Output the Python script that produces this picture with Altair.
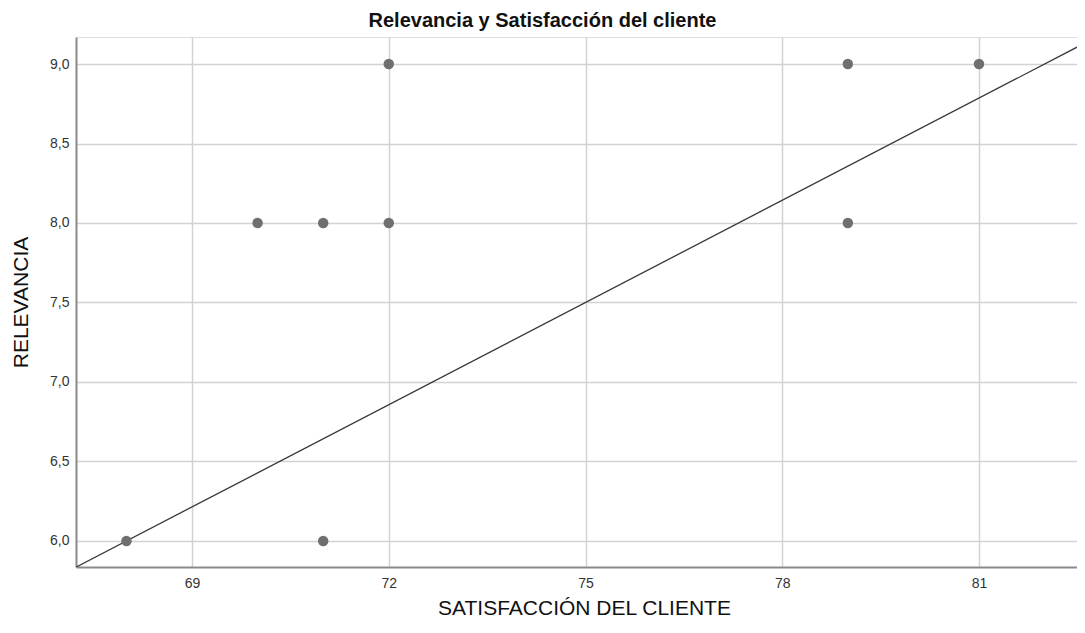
import altair as alt
import pandas as pd

# Data
satisfaccion = [68, 71, 70, 71, 72, 72, 79, 81, 79]
relevancia = [6.0, 6.0, 8.0, 8.0, 8.0, 9.0, 9.0, 9.0, 8.0]

# Fit line endpoints (at the edges of the axis domain)
line_x = [67.231, 82.494]
line_y = [5.835, 9.106]

x_ticks = [69, 72, 75, 78, 81]
y_ticks = [6.0, 6.5, 7.0, 7.5, 8.0, 8.5, 9.0]

x_domain = [67.231, 82.494]
y_domain = [5.836, 9.17]

pts = pd.DataFrame({"x": satisfaccion, "y": relevancia})
ln = pd.DataFrame({"x": line_x, "y": line_y})

FONT = "Liberation Sans"
W, H = 1001, 530

xscale = alt.Scale(domain=x_domain, nice=False, zero=False)
yscale = alt.Scale(domain=y_domain, nice=False, zero=False)

xaxis = alt.Axis(
    values=x_ticks, title="SATISFACCIÓN DEL CLIENTE", grid=True, ticks=False,
    format="d",
    gridColor="#d2d2d2", gridWidth=1.5, domainColor="#8a8a8a", domainWidth=2,
    labelFont=FONT, labelFontSize=14, labelColor="#333333", labelPadding=9,
    titleFont=FONT, titleFontSize=21, titleFontWeight="normal", titleColor="#111111",
    titleX=508, titleY=47, titleBaseline="alphabetic",
)
yaxis = alt.Axis(
    values=y_ticks, title="RELEVANCIA", grid=True, ticks=False,
    gridColor="#d2d2d2", gridWidth=1.5, domainColor="#8a8a8a", domainWidth=2,
    labelFont=FONT, labelFontSize=14, labelColor="#333333", labelPadding=7,
    labelExpr="replace(format(datum.value, '.1f'), '.', ',')",
    titleFont=FONT, titleFontSize=21, titleFontWeight="normal", titleColor="#111111",
    titleX=-49, titleY=265, titleBaseline="alphabetic", titleAngle=270,
)

points = alt.Chart(pts).mark_circle(size=110, color="#6f6f6f", opacity=1).encode(
    x=alt.X("x:Q", scale=xscale, axis=xaxis),
    y=alt.Y("y:Q", scale=yscale, axis=yaxis),
)

line = alt.Chart(ln).mark_line(color="#383838", strokeWidth=1.3, clip=True).encode(
    x=alt.X("x:Q", scale=xscale),
    y=alt.Y("y:Q", scale=yscale),
)

chart = (
    alt.layer(line, points)
    .properties(
        width=W,
        height=H,
        title=alt.TitleParams(
            "Relevancia y Satisfacción del cliente", font=FONT, fontSize=20,
            fontWeight="bold", color="#111111", anchor="middle", offset=6,
            dx=-34,
        ),
        autosize=alt.AutoSizeParams(type="none"),
        padding={"left": 68, "top": 29, "right": 0, "bottom": 54},
    )
    .configure_view(stroke=None)
    .configure(background="white")
)

chart.save("out.html", embed_options={"renderer": "svg", "actions": False})
